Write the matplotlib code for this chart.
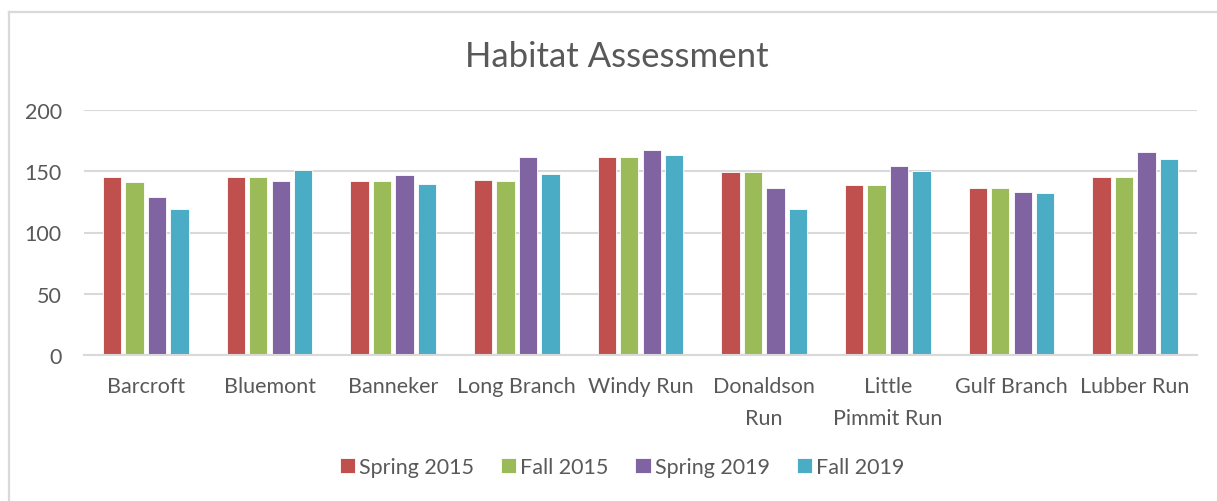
import numpy as np
import matplotlib
matplotlib.use("Agg")
import matplotlib.pyplot as plt
from matplotlib.lines import Line2D

sites = ["Barcroft", "Bluemont", "Banneker", "Long Branch", "Windy Run",
         "Donaldson\nRun", "Little\nPimmit Run", "Gulf Branch", "Lubber Run"]
series = ["Spring 2015", "Fall 2015", "Spring 2019", "Fall 2019"]
spring_2015 = [145, 145, 142, 143, 162, 149, 139, 136, 145]
fall_2015 = [141, 145, 142, 142, 162, 149, 139, 136, 145]
spring_2019 = [129, 142, 147, 162, 167, 136, 154, 133, 166]
fall_2019 = [119, 151, 140, 148, 163, 119, 150, 132, 160]
colors = ["#C0504D", "#9BBB59", "#8064A2", "#4BACC6"]

plt.rcParams['font.family'] = ['Lato', 'DejaVu Sans']
text_color = "#595959"
grid_color = "#D9D9D9"

W, H = 1217, 502
fig = plt.figure(figsize=(W / 100, H / 100), dpi=100)
ax = fig.add_axes([84 / W, (H - 356) / H, (1197 - 84) / W, (356 - 111) / H])

x = np.arange(len(sites))
pitch = 0.182
width = 0.148
for i, (vals, name) in enumerate(zip([spring_2015, fall_2015, spring_2019, fall_2019], series)):
    ax.bar(x + (i - 1.5) * pitch, vals, width, color=colors[i], label=name,
           edgecolor="white", linewidth=0.6, zorder=3)

ax.set_xlim(-0.5, len(sites) - 0.5)
ax.set_ylim(0, 200)
ax.set_yticks([0, 50, 100, 150, 200])
ax.set_xticks(x)
ax.set_xticklabels(sites, linespacing=1.75)
ax.yaxis.grid(True, color=grid_color, linewidth=1.5, zorder=0)
for s in ["top", "right", "left"]:
    ax.spines[s].set_visible(False)
ax.spines["bottom"].set_color(grid_color)
ax.spines["bottom"].set_linewidth(1.5)
ax.spines["bottom"].set_zorder(4)
ax.tick_params(axis="both", length=0, colors=text_color, labelsize=15.5)
ax.tick_params(axis="y", pad=16)
ax.tick_params(axis="x", pad=15)

fig.text(617 / W, (H - 57) / H, "Habitat Assessment", ha="center", va="center",
         fontsize=25, color=text_color)

leg = fig.legend(loc="center", bbox_to_anchor=(622 / W, (H - 468) / H), ncol=4,
                 frameon=False, fontsize=15.5, handlelength=0.7, handleheight=0.7,
                 handletextpad=0.2, columnspacing=1.25, labelcolor=text_color)

fig.add_artist(Line2D([8.5 / W, 8.5 / W], [0, (H - 12.5) / H], color=grid_color, lw=1.6))
fig.add_artist(Line2D([8.5 / W, 1], [(H - 12.5) / H, (H - 12.5) / H], color=grid_color, lw=1.6))

fig.savefig("out.png", dpi=100, facecolor="white")
